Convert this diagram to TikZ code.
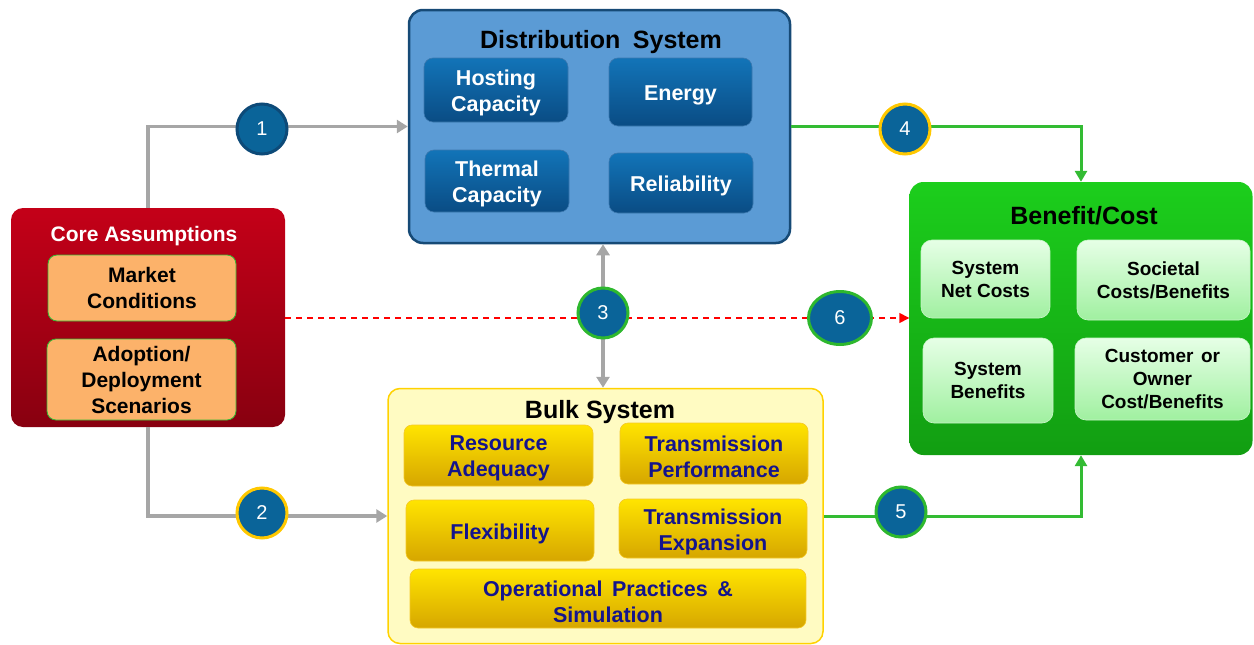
\documentclass[tikz,border=0pt]{standalone}
\usepackage{fontspec}
\setmainfont{Liberation Sans}
\usetikzlibrary{arrows.meta,shapes.geometric}
\definecolor{grayln}{HTML}{A6A6A6}
\definecolor{greenln}{HTML}{33BB33}
\definecolor{circfill}{HTML}{0A6499}
\definecolor{circdark}{HTML}{0D4A78}
\definecolor{circgold}{HTML}{FFC800}
\definecolor{circgreen}{HTML}{2EB82E}
\definecolor{bulktext}{HTML}{14148C}
\tikzset{
  fs/.style 2 args={font=\fontsize{#1}{#2}\selectfont\bfseries},
  corebox/.style={rounded corners=12pt, top color={rgb,255:red,196;green,0;blue,24}, bottom color={rgb,255:red,136;green,0;blue,16}, minimum width=274pt, minimum height=219pt, inner sep=0pt},
  orangebox/.style={rounded corners=9pt, fill={rgb,255:red,252;green,178;blue,106}, draw=greenln, line width=0.8pt, align=center, fs={21}{26}, text=black, inner sep=0pt},
  distbox/.style={rounded corners=14pt, fill={rgb,255:red,91;green,155;blue,213}, draw={rgb,255:red,22;green,74;blue,118}, line width=2.5pt, inner sep=0pt},
  bluebox/.style={rounded corners=9pt, top color={rgb,255:red,18;green,116;blue,184}, bottom color={rgb,255:red,10;green,76;blue,132}, draw={rgb,255:red,60;green,120;blue,175}, line width=0.6pt, inner sep=0pt},
  btxt/.style={fs={21.5}{26}, text=white, align=center, inner sep=0pt, yshift=-3pt},
  benbox/.style={rounded corners=14pt, top color={rgb,255:red,28;green,206;blue,28}, bottom color={rgb,255:red,18;green,158;blue,18}, inner sep=0pt},
  greenbox/.style={rounded corners=11pt, top color={rgb,255:red,230;green,255;blue,230}, bottom color={rgb,255:red,160;green,240;blue,160}, draw={rgb,255:red,200;green,245;blue,200}, line width=0.6pt, align=center, fs={19}{23}, text=black, inner sep=0pt},
  bulkbox/.style={rounded corners=12pt, fill={rgb,255:red,255;green,251;blue,194}, draw={rgb,255:red,255;green,210;blue,0}, line width=1.5pt, inner sep=0pt},
  yellowbox/.style={rounded corners=8pt, top color={rgb,255:red,255;green,228;blue,0}, bottom color={rgb,255:red,214;green,166;blue,0}, draw={rgb,255:red,245;green,200;blue,40}, line width=0.6pt, inner sep=0pt},
  ytxt/.style={fs={21.5}{26}, text=bulktext, align=center, inner sep=0pt, yshift=-3pt},
  numcirc/.style={circle, fill=circfill, line width=3pt, minimum size=50pt, inner sep=0pt, text=white, font=\fontsize{20}{24}\selectfont},
  grayarrow/.style={draw=grayln, line width=3.5pt, -{Triangle[width=13pt,length=11pt]}},
  greenarrow/.style={draw=greenln, line width=3pt, -{Triangle[width=12pt,length=11pt]}},
  redarrow/.style={draw=red, line width=1.4pt, dash pattern=on 6pt off 5pt, -{Triangle[width=10pt,length=10pt]}},
}
\begin{document}
\begin{tikzpicture}[x=1pt,y=-1pt]
\useasboundingbox (0,0) rectangle (1254,645);
% outer boxes
\node[corebox] (core) at (148,317.5) {};
\node[fs={21}{26}, text=white] (coretitle) at (144,236.5) {Core Assumptions};
\node[orangebox, minimum width=188pt, minimum height=66pt] (market) at (142,288) {Market\\Conditions};
\node[orangebox, minimum width=189pt, minimum height=81pt] (adopt) at (141.5,379.5) {Adoption/\\Deployment\\Scenarios};

\node[distbox, minimum width=381pt, minimum height=233pt] (dist) at (599.5,126.5) {};
\node[fs={25}{30}] (disttitle) at (601,42.5) {Distribution\hspace{0.5em}System};
\node[bluebox, minimum width=144pt, minimum height=64pt, label={[btxt]center:{Hosting\\Capacity}}] (hosting) at (496,90) {};
\node[bluebox, minimum width=143pt, minimum height=68pt, label={[btxt]center:{Energy}}] (energy) at (680.5,92) {};
\node[bluebox, minimum width=144pt, minimum height=62pt, label={[btxt]center:{Thermal\\Capacity}}] (thermal) at (497,181) {};
\node[bluebox, minimum width=144pt, minimum height=60pt, label={[btxt]center:{Reliability}}] (reliab) at (681,183) {};

\node[benbox, minimum width=343pt, minimum height=273pt] (ben) at (1081,318.5) {};
\node[fs={25}{30}] (bentitle) at (1084,216) {Benefit/Cost};
\node[greenbox, minimum width=129pt, minimum height=78pt] (sysnet) at (985.5,279) {System\\Net Costs};
\node[greenbox, minimum width=173pt, minimum height=80pt] (societal) at (1163.5,280) {Societal\\Costs/Benefits};
\node[greenbox, minimum width=130pt, minimum height=85pt] (sysben) at (988,380.5) {System\\Benefits};
\node[greenbox, minimum width=175pt, minimum height=82pt] (customer) at (1162.5,379) {Customer\hspace{0.4em}or\\Owner\\Cost/Benefits};

\node[bulkbox, minimum width=435pt, minimum height=255pt] (bulk) at (605.5,516) {};
\node[fs={25}{30}] (bulktitle) at (600,412) {Bulk System};
\node[yellowbox, minimum width=189pt, minimum height=61pt, label={[ytxt]center:{Resource\\Adequacy}}] (resource) at (498.5,455.5) {};
\node[yellowbox, minimum width=188pt, minimum height=61pt, label={[ytxt]center:{Transmission\\Performance}}] (transperf) at (714,453.5) {};
\node[yellowbox, minimum width=188pt, minimum height=61pt, label={[ytxt]center:{Flexibility}}] (flex) at (500,530.5) {};
\node[yellowbox, minimum width=188pt, minimum height=59pt, label={[ytxt]center:{Transmission\\Expansion}}] (transexp) at (713,528.5) {};
\node[yellowbox, minimum width=396pt, minimum height=59pt, label={[ytxt]center:{Operational\hspace{0.45em}Practices\hspace{0.45em}\&\\Simulation}}] (oper) at (608,598.5) {};

% connectors
\coordinate (p1) at (262,129);
\coordinate (p2) at (262,513);
\coordinate (p3) at (603,313);
\coordinate (p4) at (905,129);
\coordinate (p5) at (901,512);
\coordinate (p6) at (840,318);
\draw[grayarrow] (core.north) |- (dist.west);
\draw[grayarrow] (core.south) |- (bulk.west);
\draw[grayarrow] (p3) -- (p3 |- dist.south);
\draw[grayarrow] (p3) -- (p3 |- bulk.north);
\draw[greenarrow] (dist.east) -| (ben.north);
\draw[greenarrow] (bulk.east) -| (ben.south);
\draw[redarrow] (core.east |- p6) -- (ben.west |- p6);

% numbered circles
\node[numcirc, draw=circdark] (c1) at (p1) {1};
\node[numcirc, draw=circgold] (c2) at (p2) {2};
\node[numcirc, draw=circgreen] (c3) at (p3) {3};
\node[numcirc, draw=circgold] (c4) at (p4) {4};
\node[numcirc, draw=circgreen] (c5) at (p5) {5};
\node[numcirc, draw=circgreen, ellipse, minimum width=63pt, minimum height=53pt] (c6) at (p6) {6};
\end{tikzpicture}
\end{document}
